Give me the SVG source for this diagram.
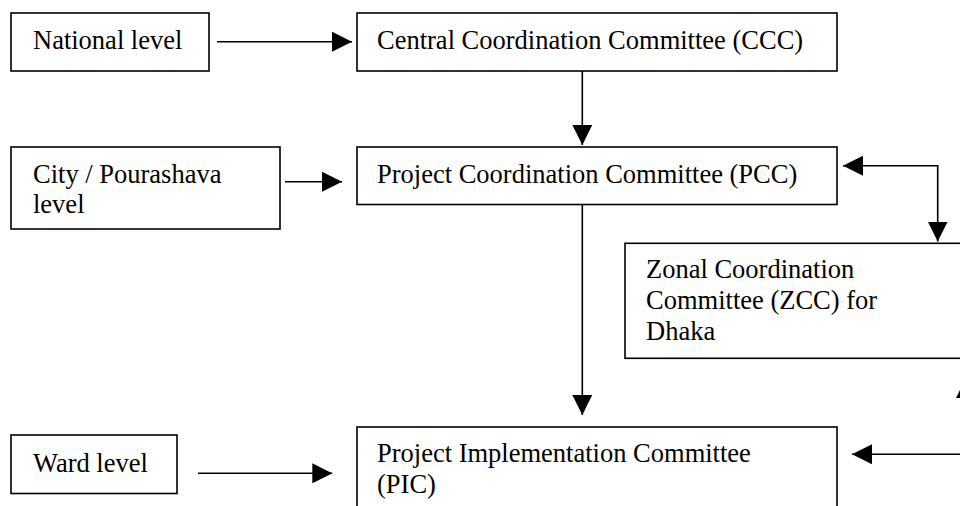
<svg xmlns="http://www.w3.org/2000/svg" width="960" height="506" viewBox="0 0 960 506">
  <style>
    .box { fill: #ffffff; stroke: #000000; stroke-width: 1.6; }
    .lbl { font-family: "Liberation Serif", "Times New Roman", serif; font-size: 26.5px; fill: #000000; }
    .conn { fill: none; stroke: #000000; stroke-width: 1.6; }
  </style>
  <defs>
    <marker id="ah" viewBox="0 0 20 20" refX="20" refY="10" markerWidth="20" markerHeight="20" markerUnits="userSpaceOnUse" orient="auto-start-reverse">
      <path d="M0,0 L20,10 L0,20 z" fill="#000000"/>
    </marker>
  </defs>
  <rect x="0" y="0" width="960" height="506" fill="#ffffff"/>

  <g id="national">
    <rect class="box" x="11" y="13" width="198" height="58"/>
    <text class="lbl" x="33" y="49">National level</text>
  </g>
  <g id="ccc">
    <rect class="box" x="357" y="13" width="480" height="58"/>
    <text class="lbl" x="377" y="49">Central Coordination Committee (CCC)</text>
  </g>
  <g id="city">
    <rect class="box" x="11" y="147" width="269" height="82"/>
    <text class="lbl" x="33" y="183">City / Pourashava</text>
    <text class="lbl" x="33" y="213">level</text>
  </g>
  <g id="pcc">
    <rect class="box" x="357" y="147" width="480" height="57.5"/>
    <text class="lbl" x="377" y="183">Project Coordination Committee (PCC)</text>
  </g>
  <g id="zcc">
    <rect class="box" x="625" y="243.3" width="400" height="115"/>
    <text class="lbl" x="646" y="278">Zonal Coordination</text>
    <text class="lbl" x="646" y="309">Committee (ZCC) for</text>
    <text class="lbl" x="646" y="340">Dhaka</text>
  </g>
  <g id="ward">
    <rect class="box" x="11" y="435" width="166" height="58.5"/>
    <text class="lbl" x="33" y="471.5">Ward level</text>
  </g>
  <g id="pic">
    <rect class="box" x="357" y="427" width="480" height="100"/>
    <text class="lbl" x="377" y="462">Project Implementation Committee</text>
    <text class="lbl" x="377" y="492.5">(PIC)</text>
  </g>

  <g id="connectors">
    <line class="conn" x1="217" y1="41.7" x2="352" y2="41.7" marker-end="url(#ah)"/>
    <line class="conn" x1="582.3" y1="71" x2="582.3" y2="145" marker-end="url(#ah)"/>
    <line class="conn" x1="285" y1="181.7" x2="342" y2="181.7" marker-end="url(#ah)"/>
    <path class="conn" d="M843,165.7 H937.7 V241.5" marker-start="url(#ah)" marker-end="url(#ah)"/>
    <line class="conn" x1="582.3" y1="205" x2="582.3" y2="415" marker-end="url(#ah)"/>
    <line class="conn" x1="198" y1="473.3" x2="332.3" y2="473.3" marker-end="url(#ah)"/>
    <path class="conn" d="M852,454.3 H966 V378" marker-start="url(#ah)" marker-end="url(#ah)"/>
  </g>
</svg>
